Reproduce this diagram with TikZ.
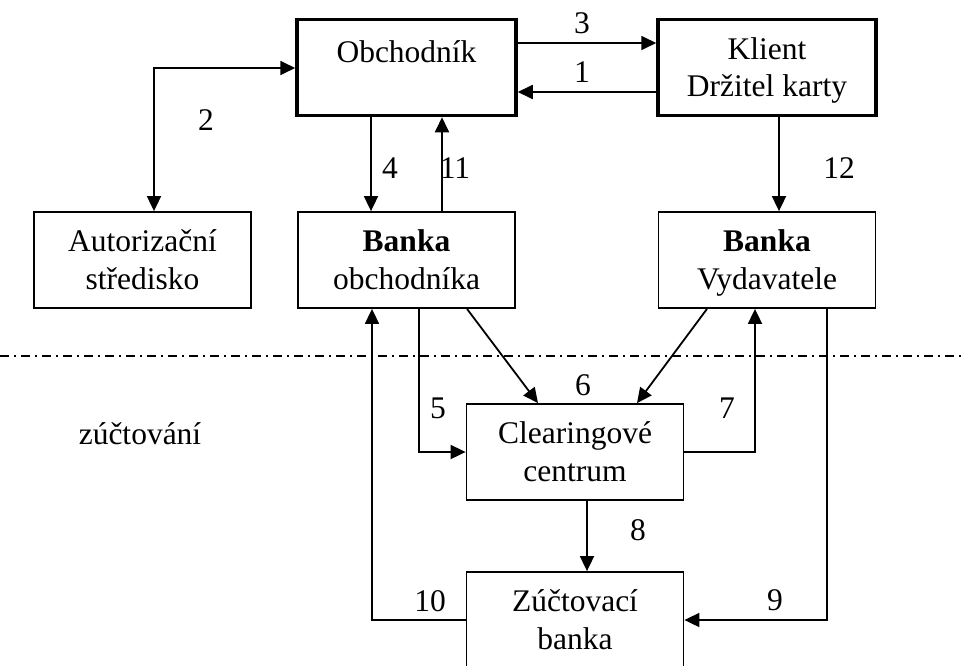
\documentclass[tikz,border=0pt]{standalone}
\usepackage{fontspec}
\setmainfont{Liberation Serif}
\usetikzlibrary{arrows.meta}
\tikzset{
  txt/.style={font=\fontsize{31.5}{37.5}\selectfont},
  box/.style={draw, line width=1.8pt, rectangle, inner sep=0pt, align=center,
    minimum width=217pt, minimum height=96pt, txt, text height=77pt, text depth=19pt},
  onebox/.style={box, text height=43pt, text depth=53pt},
  thickbox/.style={line width=3.5pt},
  conn/.style={line width=1.8pt, -{Triangle[length=15pt,width=14pt]}},
  bconn/.style={line width=1.8pt, {Triangle[length=15pt,width=14pt]}-{Triangle[length=15pt,width=14pt]}},
  num/.style={txt, anchor=base, inner sep=0pt},
}
\begin{document}
\begin{tikzpicture}[x=1pt,y=-1pt]
\useasboundingbox (0,0) rectangle (962,665);
\clip (0,0) rectangle (962,665);
% boxes
\node[onebox, thickbox, minimum width=219pt] (obch) at (406.5,67.5) {Obchodník};
\node[box, thickbox, minimum width=218pt] (klient) at (767,67.5) {Klient\\Držitel karty};
\node[box] (aut) at (142.5,260) {Autorizační\\středisko};
\node[box] (bob) at (406.5,260) {\textbf{Banka}\\obchodníka};
\node[box] (bvy) at (767,260) {\textbf{Banka}\\Vydavatele};
\node[box] (clr) at (575,452) {Clearingové\\centrum};
\node[box] (zb) at (575,620) {Zúčtovací\\banka};
% separator
\draw[line width=1.5pt, dash pattern=on 9pt off 5pt on 2pt off 5pt] (0,356) -- (962,356);
\node[txt, anchor=base, inner sep=0pt] (zuct) at (140,444) {zúčtování};
% connectors
\draw[conn] (obch.east |- 0,43) -- (klient.west |- 0,43);
\draw[conn] (klient.west |- 0,92) -- (obch.east |- 0,92);
\draw[bconn] (obch.west |- 0,68) -| (aut.north -| 154,0);
\draw[conn] (obch.south -| 371,0) -- (bob.north -| 371,0);
\draw[conn] (bob.north -| 442,0) -- (obch.south -| 442,0);
\draw[conn] (klient.south -| 779,0) -- (bvy.north -| 779,0);
\draw[conn] (bob.south -| 419,0) |- (clr.west |- 0,452);
\draw[conn] (bob.south -| 467,0) -- (clr.north -| 538,0);
\draw[conn] (bvy.south -| 707,0) -- (clr.north -| 637,0);
\draw[conn] (clr.east |- 0,452) -| (bvy.south -| 755,0);
\draw[conn] (clr.south -| 587,0) -- (zb.north -| 587,0);
\draw[conn] (bvy.south -| 827,0) |- (zb.east |- 0,620);
\draw[conn] (zb.west |- 0,620) -| (bob.south -| 372,0);
% numbers
\node[num] (n3) at (582,33) {3};
\node[num] (n1) at (582,82) {1};
\node[num] (n2) at (206,130) {2};
\node[num] (n4) at (390,178) {4};
\node[num] (n11) at (455,178) {11};
\node[num] (n12) at (839,178) {12};
\node[num] (n5) at (438,418) {5};
\node[num] (n6) at (583,395) {6};
\node[num] (n7) at (727,418) {7};
\node[num] (n8) at (638,540) {8};
\node[num] (n9) at (775,610) {9};
\node[num] (n10) at (430,611) {10};
\end{tikzpicture}
\end{document}
